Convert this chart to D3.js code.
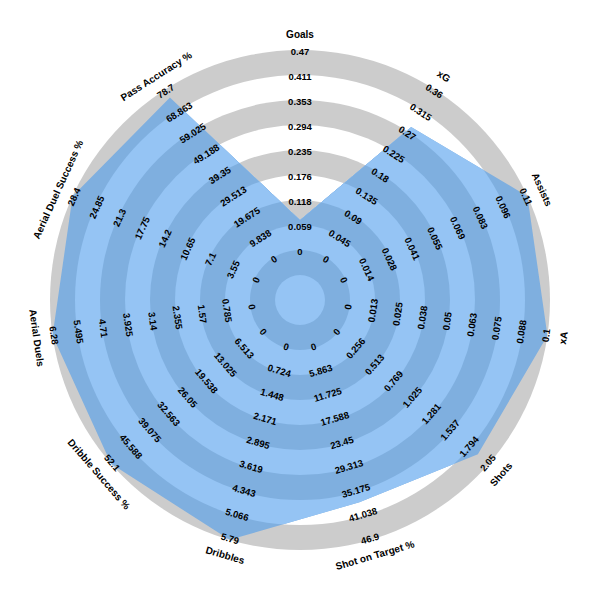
<!DOCTYPE html>
<html>
<head>
<meta charset="utf-8">
<script src="https://cdn.jsdelivr.net/npm/d3@7"></script>
<style>
  html, body { margin: 0; padding: 0; background: #ffffff; }
  svg { display: block; }
  text { font-family: "Liberation Sans", Arial, Helvetica, sans-serif; font-weight: bold; fill: #000; }
</style>
</head>
<body>
<svg id="chart" width="600" height="600"></svg>
<script>
// ---------------- data ----------------
const params = ["Goals", "xG", "Assists", "xA", "Shots", "Shot on Target %",
  "Dribbles", "Dribble Success %", "Aerial Duels", "Aerial Duel Success %", "Pass Accuracy %"];
const rangeMin = [0, 0, 0, 0, 0, 0, 0, 0, 0, 0, 0];
const rangeMax = [0.47, 0.36, 0.11, 0.1, 2.05, 46.9, 5.79, 52.1, 6.28, 28.4, 78.7];
const values = [0.07, 0.28, 0.11, 0.1, 1.9, 37.7, 5.79, 52.1, 6.28, 28.4, 75];
const tickLabels = [
  ["0", "0.059", "0.118", "0.176", "0.235", "0.294", "0.353", "0.411", "0.47"],
  ["0", "0.045", "0.09", "0.135", "0.18", "0.225", "0.27", "0.315", "0.36"],
  ["0", "0.014", "0.028", "0.041", "0.055", "0.069", "0.083", "0.096", "0.11"],
  ["0", "0.013", "0.025", "0.038", "0.05", "0.063", "0.075", "0.088", "0.1"],
  ["0", "0.256", "0.513", "0.769", "1.025", "1.281", "1.537", "1.794", "2.05"],
  ["0", "5.863", "11.725", "17.588", "23.45", "29.313", "35.175", "41.038", "46.9"],
  ["0", "0.724", "1.448", "2.171", "2.895", "3.619", "4.343", "5.066", "5.79"],
  ["0", "6.513", "13.025", "19.538", "26.05", "32.563", "39.075", "45.588", "52.1"],
  ["0", "0.785", "1.57", "2.355", "3.14", "3.925", "4.71", "5.495", "6.28"],
  ["0", "3.55", "7.1", "10.65", "14.2", "17.75", "21.3", "24.85", "28.4"],
  ["0", "9.838", "19.675", "29.513", "39.35", "49.188", "59.025", "68.863", "78.7"]
];

// ---------------- layout ----------------
const cx = 300, cy = 300;
const innerR = 50, outerR = 250, ringW = 25, labelR = 266;
const colors = { gray: "#cccccc", white: "#ffffff", dark: "#7fafdf", light: "#95c4f4" };

const svg = d3.select("#chart");
const g = svg.append("g").attr("transform", `translate(${cx},${cy})`);

const n = params.length;
const angle = d3.scaleLinear().domain([0, n]).range([0, 2 * Math.PI]);
const radius = params.map((p, i) =>
  d3.scaleLinear().domain([rangeMin[i], rangeMax[i]]).range([innerR, outerR]));

// ring radii from outer to inner
const rings = d3.range(outerR, 0, -ringW); // 250,225,...,25
const isShaded = (r, idx) => idx % 2 === 0;

// background rings
g.append("g").selectAll("circle").data(rings).join("circle")
  .attr("r", d => d)
  .attr("fill", (d, i) => isShaded(d, i) ? colors.gray : colors.white);

// polygon
const radial = d3.lineRadial()
  .angle((d, i) => angle(i))
  .radius((d, i) => radius[i](d))
  .curve(d3.curveLinearClosed);

const pathD = radial(values);
svg.append("defs").append("clipPath").attr("id", "polyClip")
  .append("path").attr("d", pathD);

g.append("g").attr("clip-path", "url(#polyClip)")
  .selectAll("circle").data(rings).join("circle")
  .attr("r", d => d)
  .attr("fill", (d, i) => isShaded(d, i) ? colors.dark : colors.light);

// rotation helper
function rot(deg) {
  if (deg <= 90) return deg;
  if (deg < 270) return deg - 180;
  return deg - 360;
}

// range labels
params.forEach((p, i) => {
  const a = angle(i);
  const deg = a * 180 / Math.PI;
  const steps = tickLabels[i].length - 1;
  tickLabels[i].forEach((t, k) => {
    const v = rangeMin[i] + (rangeMax[i] - rangeMin[i]) * k / steps;
    const r = radius[i](v) - 1.5;
    const x = r * Math.sin(a), y = -r * Math.cos(a);
    g.append("text")
      .attr("transform", `translate(${x},${y}) rotate(${rot(deg)})`)
      .attr("text-anchor", "middle")
      .attr("dominant-baseline", "central")
      .attr("font-size", "9.5px")
      .text(t);
  });
});

// param labels
params.forEach((p, i) => {
  const a = angle(i);
  const deg = a * 180 / Math.PI;
  const x = labelR * Math.sin(a), y = -labelR * Math.cos(a);
  g.append("text")
    .attr("transform", `translate(${x},${y}) rotate(${rot(deg)})`)
    .attr("text-anchor", "middle")
    .attr("dominant-baseline", "central")
    .attr("font-size", "10px")
    .text(p);
});
</script>
</body>
</html>
